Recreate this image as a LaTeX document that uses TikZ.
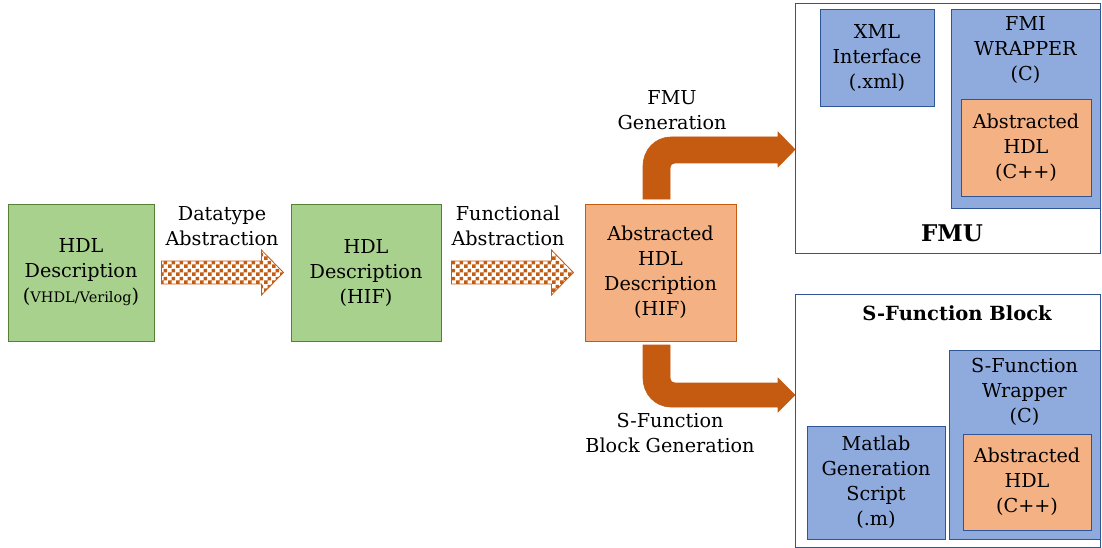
\documentclass[tikz,border=0pt]{standalone}
\usepackage{fontspec}
\setmainfont{DejaVu Serif}
\usetikzlibrary{patterns}

\definecolor{grfill}{HTML}{A9D18E}
\definecolor{grline}{HTML}{538135}
\definecolor{orfill}{HTML}{F4B183}
\definecolor{orline}{HTML}{C55A11}
\definecolor{blfill}{HTML}{8FAADC}
\definecolor{blline}{HTML}{2F5597}

% checkerboard with 4pt squares
\pgfdeclarepatternformonly{coarsechecker}{\pgfqpoint{0pt}{0pt}}{\pgfqpoint{8pt}{8pt}}{\pgfqpoint{8pt}{8pt}}{%
  \pgfpathrectangle{\pgfqpoint{0pt}{0pt}}{\pgfqpoint{4pt}{4pt}}%
  \pgfpathrectangle{\pgfqpoint{4pt}{4pt}}{\pgfqpoint{4pt}{4pt}}%
  \pgfusepath{fill}}

\newcommand\lblfont{\fontsize{19.2}{25}\selectfont}

\tikzset{
  blk/.style={draw, line width=0.9pt, inner sep=0pt, align=center, font=\lblfont},
  greenbox/.style={blk, fill=grfill, draw=grline},
  orangebox/.style={blk, fill=orfill, draw=orline},
  bluebox/.style={blk, fill=blfill, draw=blline},
  outerbox/.style={draw=blline, line width=0.8pt, fill=white, inner sep=0pt},
  txt/.style={align=center, font=\lblfont, inner sep=0pt},
  boldtxt/.style={inner sep=0pt, font=\fontsize{#1}{#1}\selectfont\bfseries},
  bentarrow/.style={fill=orline, draw=orline, line width=0.6pt, line join=miter},
  chkarrow/.pic={
    \path[pattern=coarsechecker, pattern color=orline, draw=orline, line width=0.8pt]
      (0,-11.5) -- (100,-11.5) -- (100,-22.5) -- (122,0) -- (100,22.5) -- (100,11.5) -- (0,11.5) -- cycle;
  }
}

\begin{document}
\begin{tikzpicture}[x=1pt, y=-1pt]
\useasboundingbox (0,0) rectangle (1102,548);

% flow of descriptions
\node[greenbox, minimum width=146pt, minimum height=137pt] (g1) at (81,272.5)
  {HDL\\Description\\({\fontsize{14.5}{25}\selectfont VHDL/Verilog})};
\node[greenbox, minimum width=150pt, minimum height=137pt] (g2) at (366,272.5)
  {HDL\\Description\\(HIF)};
\node[orangebox, minimum width=151pt, minimum height=137pt] (abs) at (660.5,272.5)
  {Abstracted\\HDL\\Description\\(HIF)};

\pic at ([xshift=7pt]g1.east) {chkarrow};
\pic at ([xshift=10pt]g2.east) {chkarrow};

\node[txt] (l1) at (222,226) {Datatype\\Abstraction};
\node[txt] (l2) at (508,226) {Functional\\Abstraction};
\node[txt] (l3) at (672,110) {FMU\\Generation};
\node[txt] (l4) at (670,433) {S-Function\\Block Generation};

% FMU container
\node[outerbox, minimum width=305.5pt, minimum height=250pt] (fmu) at (947.75,128) {};
\node[bluebox, minimum width=114pt, minimum height=97pt] (xml) at (877,57.5)
  {XML\\Interface\\(.xml)};
\node[bluebox, minimum width=149pt, minimum height=199pt] (fmiw) at (1025.5,108.5) {};
\node[txt] (fmiwt) at (1025.5,50) {FMI\\WRAPPER\\(C)};
\node[orangebox, draw=blline, minimum width=130pt, minimum height=97pt] (fmic) at (1026,147.5)
  {Abstracted\\HDL\\(C++)};
\node[boldtxt=23] (fmut) at (952,233) {FMU};

% S-Function container
\node[outerbox, minimum width=305.5pt, minimum height=253pt] (sfb) at (947.75,420.5) {};
\node[boldtxt=19.5] (sfbt) at (957,313) {S-Function Block};
\node[bluebox, minimum width=151pt, minimum height=189pt] (sfw) at (1024.5,444.5) {};
\node[txt] (sfwt) at (1024.5,392) {S-Function\\Wrapper\\(C)};
\node[orangebox, draw=blline, minimum width=128pt, minimum height=96pt] (sfc) at (1027,482)
  {Abstracted\\HDL\\(C++)};
\node[bluebox, minimum width=138pt, minimum height=113pt] (mat) at (876,482.5)
  {Matlab\\Generation\\Script\\(.m)};

% bent block arrows out of the abstracted description
\path[bentarrow] (643,199) -- (643,166) .. controls (643,150) and (655,137) .. (671,137)
  -- (778,137) -- (778,132) -- (795,149.5) -- (778,167) -- (778,163) -- (675,163)
  .. controls (672,163) and (670,165) .. (670,168) -- (670,199) -- cycle;
\path[bentarrow] (643,345) -- (643,378) .. controls (643,394) and (655,407) .. (671,407)
  -- (778,407) -- (778,412) -- (795,395) -- (778,378) -- (778,383) -- (675,383)
  .. controls (672,383) and (670,381) .. (670,378) -- (670,345) -- cycle;
\end{tikzpicture}
\end{document}
